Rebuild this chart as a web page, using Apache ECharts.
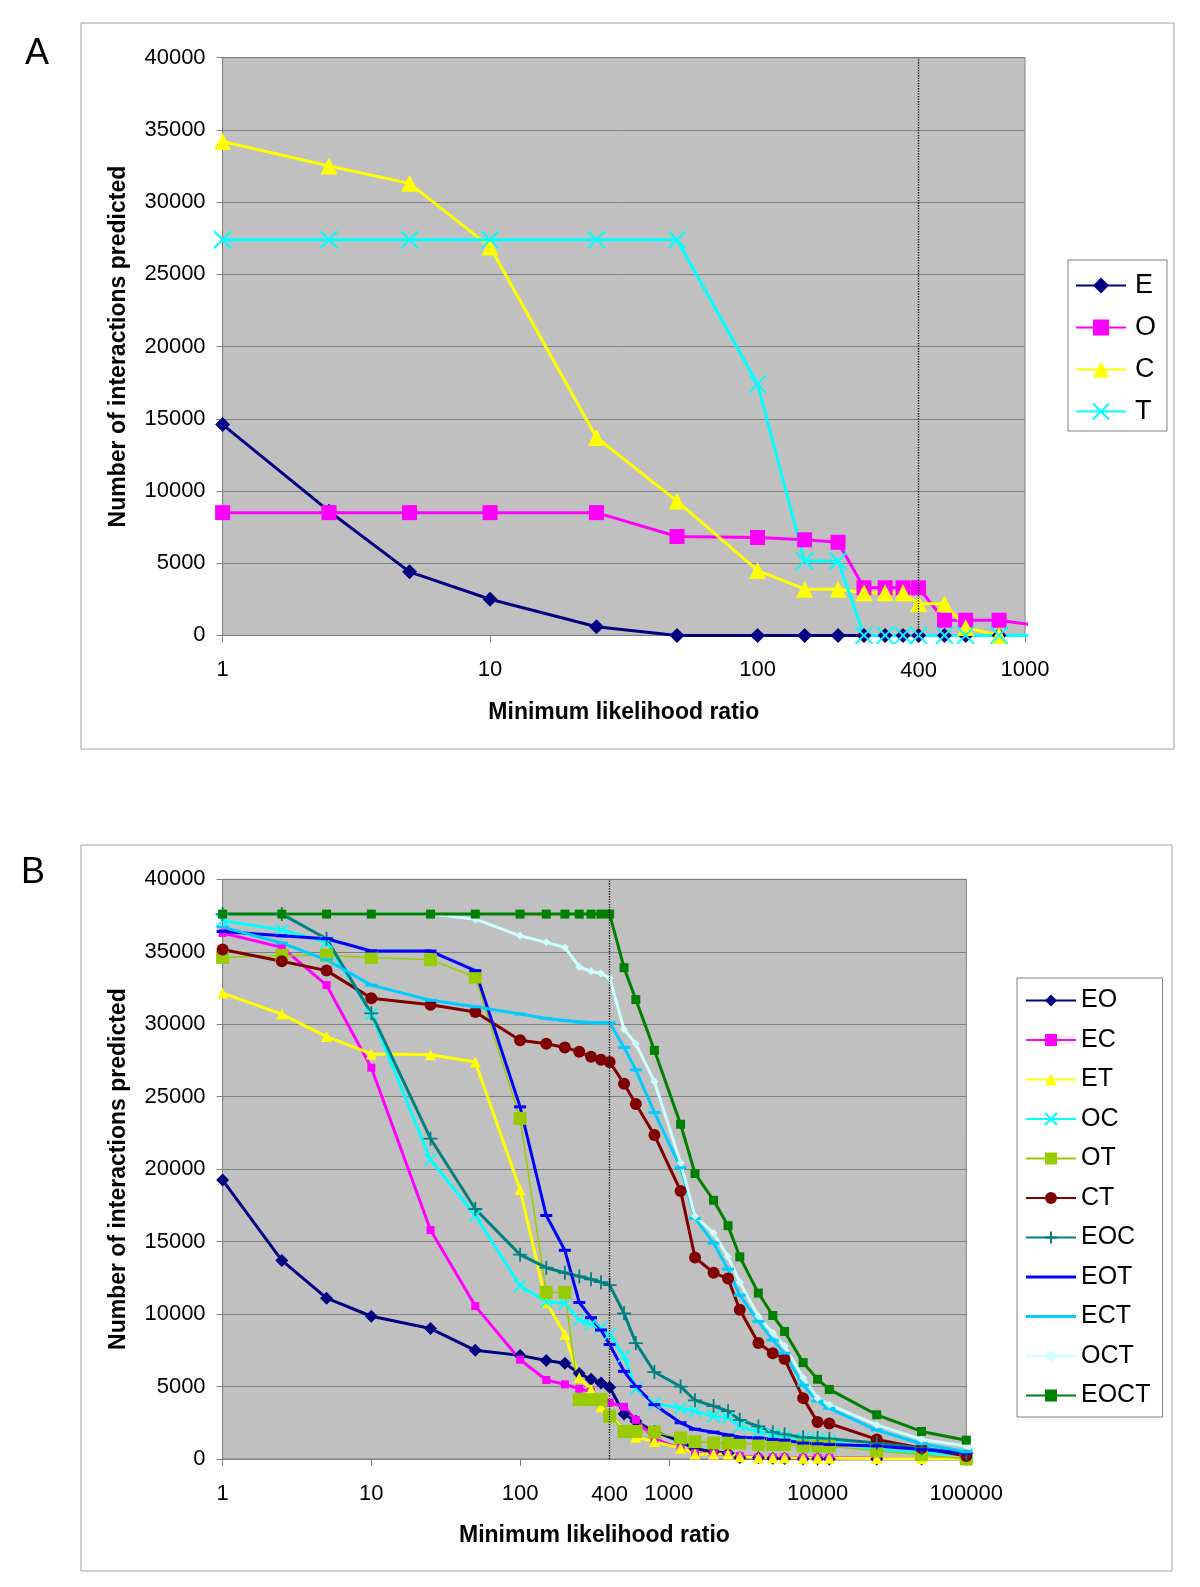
<!DOCTYPE html>
<html><head><meta charset="utf-8">
<script src="https://cdn.jsdelivr.net/npm/echarts@6/dist/echarts.min.js"></script>
<style>html,body{margin:0;padding:0;background:#fff}#c{width:1200px;height:1587px}</style>
</head><body><div id="c"></div>
<script>
// ---------- Panel A data ----------
const xA = [1, 2.5, 5, 10, 25, 50, 100, 150, 200, 250, 300, 350, 400, 500, 600, 800];
const A_E = [14600, 8600, 4400, 2500, 600, 0, 0, 0, 0, 0, 0, 0, 0, 0, 0, 0];
const A_O = [8500, 8500, 8500, 8500, 8500, 6850, 6780, 6620, 6450, 3300, 3300, 3300, 3300, 1050, 1050, 1050];
const A_C = [34200, 32500, 31300, 26900, 13700, 9300, 4500, 3200, 3200, 2950, 2950, 2950, 2200, 2200, 550, 0];
const A_T = [27400, 27400, 27400, 27400, 27400, 27400, 17400, 5150, 5150, 0, 0, 0, 0, 0, 0, 0];
const xA_tail = 1100;
const A_O_tail = 700;
const A_T_tail = 0;

// ---------- Panel B data ----------
const xB = [1, 2.5, 5, 10, 25, 50, 100, 150, 200, 250, 300, 350, 400, 500, 600, 800, 1200, 1500, 2000, 2500, 3000, 4000, 5000, 6000, 8000, 10000, 12000, 25000, 50000, 100000];
const B_EO = [19250, 13700, 11100, 9850, 9000, 7500, 7150, 6800, 6600, 5900, 5500, 5250, 4950, 3100, 2600, 1900, 1200, 700, 500, 400, 100, 80, 50, 30, 20, 10, 0, 0, 0, 0];
const B_EC = [36300, 35300, 32700, 27000, 15800, 10550, 6850, 5450, 5150, 4850, 4650, 4200, 3900, 3600, 2700, 1400, 700, 400, 350, 300, 200, 100, 100, 100, 80, 80, 80, 50, 30, 0];
const B_ET = [32150, 30700, 29150, 27950, 27900, 27400, 18600, 10800, 8600, 5600, 4800, 3600, 3000, 2000, 1500, 1200, 750, 350, 350, 350, 150, 80, 80, 80, 50, 50, 50, 30, 20, 0];
const B_OC = [37150, 36500, 35650, 30700, 20650, 16800, 11950, 10850, 10750, 9600, 9300, 9050, 8600, 7100, 4850, 3850, 3500, 3300, 2950, 2850, 2250, 1900, 1700, 1550, 1400, 1350, 1250, 650, 400, 300];
const B_OT = [34600, 34750, 34750, 34600, 34450, 33250, 23500, 11500, 11500, 4100, 4100, 4100, 2950, 1900, 1900, 1850, 1450, 1200, 1100, 1100, 1100, 1000, 1000, 1000, 900, 900, 900, 550, 300, 0];
const B_CT = [35150, 34350, 33700, 31800, 31350, 30850, 28900, 28650, 28400, 28100, 27750, 27550, 27400, 25900, 24500, 22350, 18500, 13900, 12850, 12450, 10300, 8000, 7300, 6900, 4200, 2550, 2450, 1350, 750, 200];
const B_EOC = [37600, 37600, 35900, 30750, 22100, 17250, 14100, 13200, 12850, 12600, 12400, 12200, 12000, 10050, 8000, 6000, 5000, 4050, 3650, 3300, 2700, 2250, 1850, 1700, 1500, 1450, 1400, 1100, 750, 400];
const B_EOT = [36400, 36100, 35900, 35050, 35050, 33700, 24300, 16800, 14400, 10800, 9750, 8900, 7900, 6050, 5000, 3750, 2500, 2050, 1850, 1650, 1500, 1450, 1350, 1300, 1100, 1050, 1000, 900, 650, 400];
const B_ECT = [36700, 35600, 34450, 32700, 31650, 31200, 30700, 30400, 30250, 30150, 30100, 30100, 30100, 28400, 26850, 23900, 20100, 16600, 14900, 13100, 11300, 9500, 8200, 7300, 5100, 4000, 3500, 2000, 1050, 500];
const B_OCT = [37600, 37600, 37600, 37600, 37600, 37250, 36100, 35650, 35300, 33950, 33650, 33500, 33200, 29650, 28650, 26050, 20450, 16750, 15600, 13950, 12200, 9850, 8700, 7800, 5600, 4200, 3750, 2350, 1350, 900];
const B_EOCT = [37600, 37600, 37600, 37600, 37600, 37600, 37600, 37600, 37600, 37600, 37600, 37600, 37600, 33900, 31700, 28200, 23100, 19700, 17850, 16100, 13950, 11450, 9900, 8800, 6650, 5500, 4800, 3050, 1900, 1300];

const yTicks = [0, 5000, 10000, 15000, 20000, 25000, 30000, 35000, 40000];
const cutoff = 400;

// ---------- style ----------
const FONT = '"Liberation Sans", Arial, sans-serif';
const X_PATH = 'path://M0,0L10,10M10,0L0,10';
const PLUS_PATH = 'path://M5,0L5,10M0,5L10,5';
const DASH_PATH = 'path://M0,0L12,0L12,3L0,3Z';
const BAR_ICON = 'path://M0,0L50,0L50,3L0,3Z';

function pairs(xs, ys) { return xs.map((x, i) => [x, ys[i]]); }
function ser(name, data, g, color, symbol, size, lw, stroke) {
  return {
    name, type: 'line', xAxisIndex: g, yAxisIndex: g, data,
    symbol, symbolSize: size, showAllSymbol: true, symbolKeepAspect: true,
    lineStyle: { color, width: lw },
    itemStyle: { color, borderColor: color, borderWidth: stroke || 0, opacity: 1 },
    emphasis: { disabled: true }, animation: false, z: 3
  };
}
function dotLine() {
  return {
    silent: true, symbol: ['none', 'none'], animation: false,
    lineStyle: { type: 'dotted', color: '#000', width: 1.3 },
    label: { show: true, position: 'start', formatter: String(cutoff), fontSize: 22, color: '#000', fontFamily: FONT, distance: 25 },
    data: [{ xAxis: cutoff }]
  };
}

const dataO = pairs(xA, A_O).concat([{ value: [xA_tail, A_O_tail], symbol: 'none' }]);
const dataT = pairs(xA, A_T).concat([{ value: [xA_tail, A_T_tail], symbol: 'none' }]);

const series = [
  Object.assign(ser('E', pairs(xA, A_E), 0, '#000080', 'diamond', 15, 3), { markLine: dotLine() }),
  Object.assign(ser('O', dataO, 0, '#FF00FF', 'rect', 15, 3), { clip: false }),
  ser('C', pairs(xA, A_C), 0, '#FFFF00', 'triangle', 17, 3),
  Object.assign(ser('T', dataT, 0, '#00FFFF', X_PATH, 17, 3, 2), { clip: false }),

  Object.assign(ser('EO', pairs(xB, B_EO), 1, '#000080', 'diamond', 13, 3), { markLine: dotLine() }),
  ser('EC', pairs(xB, B_EC), 1, '#FF00FF', 'rect', 8, 3),
  ser('ET', pairs(xB, B_ET), 1, '#FFFF00', 'triangle', 11, 3),
  ser('OC', pairs(xB, B_OC), 1, '#00FFFF', X_PATH, 12, 3, 1.8),
  ser('OT', pairs(xB, B_OT), 1, '#99CC00', 'rect', 13, 1.5),
  ser('CT', pairs(xB, B_CT), 1, '#800000', 'circle', 12, 3),
  ser('EOC', pairs(xB, B_EOC), 1, '#008080', PLUS_PATH, 14, 3, 1.8),
  ser('EOT', pairs(xB, B_EOT), 1, '#0000FF', DASH_PATH, 12, 3),
  ser('ECT', pairs(xB, B_ECT), 1, '#00CCFF', DASH_PATH, 12, 3),
  ser('OCT', pairs(xB, B_OCT), 1, '#CCFFFF', 'diamond', 8, 3),
  ser('EOCT', pairs(xB, B_EOCT), 1, '#008000', 'rect', 9, 3)
];

function xAxisCfg(g, max, gap, margin) {
  return {
    gridIndex: g, type: 'log', logBase: 10, min: 1, max,
    axisLine: { show: true, onZero: false, lineStyle: { color: '#808080', width: 1 } },
    axisTick: { show: true, length: 7, lineStyle: { color: '#808080' } },
    minorTick: { show: false }, splitLine: { show: false },
    axisLabel: { formatter: v => String(Math.round(v)), fontSize: 22, color: '#000', margin, fontFamily: FONT },
    name: 'Minimum likelihood ratio', nameLocation: 'middle', nameGap: gap,
    nameTextStyle: { fontSize: 23, fontWeight: 'bold', color: '#000', fontFamily: FONT }
  };
}
function yAxisCfg(g) {
  return {
    gridIndex: g, type: 'value', min: yTicks[0], max: yTicks[yTicks.length - 1], interval: yTicks[1] - yTicks[0],
    axisLine: { show: true, lineStyle: { color: '#808080', width: 1 } },
    axisTick: { show: true, length: 6, lineStyle: { color: '#808080' } },
    splitLine: { show: true, lineStyle: { color: '#808080', width: 1 } },
    axisLabel: { fontSize: 22, color: '#000', margin: 17, fontFamily: FONT, formatter: v => String(v) },
    name: 'Number of interactions predicted', nameLocation: 'middle', nameGap: 92,
    nameTextStyle: { fontSize: 23, fontWeight: 'bold', color: '#000', fontFamily: FONT }
  };
}
function legendCfg(names, left, top, fs, gap, pad, ih, textPad) {
  return {
    data: names, orient: 'vertical', left, top, itemGap: gap, itemWidth: 50, itemHeight: ih,
    padding: pad, borderColor: '#808080', borderWidth: 1, backgroundColor: '#fff',
    selectedMode: false, inactiveColor: '#000', symbolKeepAspect: true,
    textStyle: { fontSize: fs, lineHeight: fs, color: '#000', fontFamily: FONT, padding: [0, 0, 0, textPad] }
  };
}

const legendB = ['EO', 'EC', 'ET', 'OC', 'OT', 'CT', 'EOC', 'EOT', 'ECT', 'OCT', 'EOCT'].map(n =>
  (n === 'EOT' || n === 'ECT') ? { name: n, icon: BAR_ICON } : n);

const chart = echarts.init(document.getElementById('c'), null, { renderer: 'canvas' });
chart.setOption({
  backgroundColor: '#fff',
  animation: false,
  grid: [
    { left: 222.6, top: 57.7, width: 802.4, height: 577.7, show: true, backgroundColor: '#C0C0C0', borderColor: '#808080', borderWidth: 1 },
    { left: 222.6, top: 879.3, width: 743.7, height: 579.7, show: true, backgroundColor: '#C0C0C0', borderColor: '#808080', borderWidth: 1 }
  ],
  xAxis: [xAxisCfg(0, 1000, 66, 24), xAxisCfg(1, 100000, 65, 24)],
  yAxis: [yAxisCfg(0), yAxisCfg(1)],
  legend: [
    legendCfg(['E', 'O', 'C', 'T'], 1068, 260, 27, 15, [12, 11, 6, 7], 20, 4),
    legendCfg(legendB, 1017, 978, 25, 14.5, [10, 12, 9, 8], 15, 0)
  ],
  graphic: [
    { type: 'rect', silent: true, shape: { x: 81, y: 23, width: 1093, height: 726 }, style: { fill: 'none', stroke: '#a0a0a0', lineWidth: 1 } },
    { type: 'rect', silent: true, shape: { x: 81, y: 845, width: 1091, height: 726 }, style: { fill: 'none', stroke: '#a0a0a0', lineWidth: 1 } },
    { type: 'text', silent: true, x: 37, y: 54, style: { text: 'A', align: 'center', verticalAlign: 'middle', fontSize: 36, fontFamily: FONT, fill: '#000' } },
    { type: 'text', silent: true, x: 33, y: 873, style: { text: 'B', align: 'center', verticalAlign: 'middle', fontSize: 36, fontFamily: FONT, fill: '#000' } }
  ],
  series
});
</script>
</body></html>
